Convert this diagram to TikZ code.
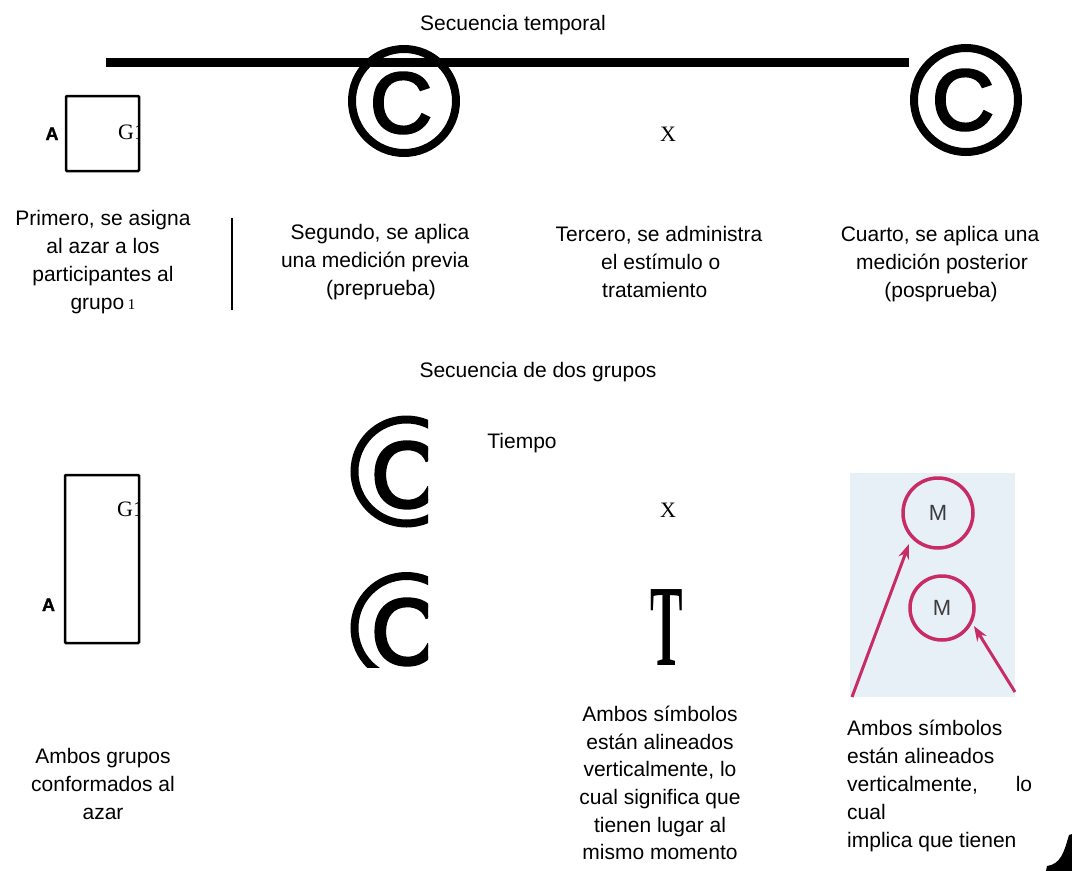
\documentclass[tikz,border=0pt]{standalone}
\usepackage{fontspec}
\setmainfont{Liberation Sans}
\newfontfamily\serifr{Liberation Serif}
\newfontfamily\csym[FakeBold=3]{Liberation Sans}
\newfontfamily\heavy[FakeBold=1.5]{Liberation Sans Bold}
\usetikzlibrary{arrows.meta}
\definecolor{mag}{RGB}{200,44,100}
\definecolor{photobg}{RGB}{231,239,247}
\definecolor{mgray}{RGB}{60,60,60}
\begin{document}
\begin{tikzpicture}[x=1pt,y=-1pt,
  txt/.style={inner sep=0pt, font=\fontsize{21}{28}\selectfont, anchor=base},
  txtl/.style={txt, anchor=base west},
  serifx/.style={inner sep=0pt, font=\serifr\fontsize{22}{22}\selectfont, anchor=base},
  boldA/.style={inner sep=0pt, font=\heavy\fontsize{18}{18}\selectfont, anchor=base},
  groupbox/.style={draw, line width=2.5pt, inner sep=0pt, rounded corners=1pt},
  ring/.style={circle, draw, line width=8pt, minimum size=104pt, inner sep=0pt},
  bigc/.style={inner sep=0pt, font=\csym\fontsize{86}{86}\selectfont},
  bigcb/.style={inner sep=0pt, font=\csym\fontsize{94}{94}\selectfont},
  mring/.style={circle, draw=mag, line width=3.5pt, inner sep=0pt, text=mgray, font=\fontsize{22}{22}\selectfont},
  magarrow/.style={draw=mag, line width=3pt, -{Stealth[length=15pt,width=11pt]}}
]
\useasboundingbox (0,0) rectangle (1072,871);

% ---------- top sequence ----------
\node[txt] (title1) at (513,30) {Secuencia temporal};
\coordinate (lineL) at (106,62.5);
\coordinate (lineR) at (909,62.5);
\draw[line width=9pt] (lineL) -- (lineR);

\begin{scope}
  \clip (60,90) rectangle (139.5,175);
  \node[serifx, anchor=base west] (g1a) at (118,139) {G1};
\end{scope}
\node[groupbox, minimum width=73pt, minimum height=75pt] (box1) at (102.5,133.5) {};
\node[boldA] (a1) at (52,140) {A};

\node[ring] (ring1) at (404,101) {};
\node[bigc] (c1) at (401,103) {C};
\node[ring] (ring2) at (966,100) {};
\node[bigc] (c2) at (963,100) {C};

\node[serifx] (x1) at (668,141) {X};

\node[txt] (p1) at (103,225) {Primero, se asigna};
\node[txt] (p2) at (103,253) {al azar a los};
\node[txt] (p3) at (103,281) {participantes al};
\node[txt] (p4) at (103,309) {grupo{\serifr\fontsize{15}{15}\selectfont\ 1}};

\coordinate (vtop) at (232,218);
\coordinate (vbot) at (232,310);
\draw[line width=2.5pt] (vtop) -- (vbot);

\node[txt] (s1) at (380,239) {Segundo, se aplica};
\node[txt] (s2) at (375,267) {una medición previa};
\node[txt] (s3) at (381,295) {(preprueba)};

\node[txt] (t1) at (659,241) {Tercero, se administra};
\node[txtl] (t2) at (601,269) {el estímulo o};
\node[txtl] (t3) at (602,297) {tratamiento};

\node[txt] (k1) at (940,241) {Cuarto, se aplica una};
\node[txt] (k2) at (942,269) {medición posterior};
\node[txt] (k3) at (941,297) {(posprueba)};

% ---------- two groups ----------
\node[txt] (title2) at (538,377) {Secuencia de dos grupos};
\node[txt] (tiempo) at (522,448) {Tiempo};

\begin{scope}
  \clip (60,480) rectangle (139.5,650);
  \node[serifx, anchor=base west] (g1b) at (117,516) {G1};
\end{scope}
\node[groupbox, minimum width=74pt, minimum height=168pt] (box2) at (102,559) {};
\node[boldA] (a2) at (48.5,611) {A};

\begin{scope}
  \clip (330,400) rectangle (428,667);
  \node[ring] (ring3) at (406.5,471.5) {};
  \node[bigcb] (c3) at (405,475) {C};
  \node[ring] (ring4) at (406.5,628) {};
  \node[bigcb] (c4) at (405,632) {C};
\end{scope}

\node[serifx] (x2) at (668,517) {X};
\node[inner sep=0pt, anchor=base, font=\serifr\bfseries\fontsize{116}{116}\selectfont] (bigT) at (666.5,665) {\scalebox{0.42}[1]{T}};

% photo
\node[fill=photobg, minimum width=165pt, minimum height=224pt, inner sep=0pt] (photo) at (932.5,585) {};
\node[mring, minimum size=70pt] (m1) at (938,513) {M};
\node[mring, minimum size=64pt] (m2) at (942,608) {M};
\coordinate (ar1s) at (852,697);
\coordinate (ar1e) at (909,544);
\coordinate (ar2s) at (1015,692);
\coordinate (ar2e) at (974,626);
\draw[magarrow] (ar1s) -- (ar1e);
\draw[magarrow] (ar2s) -- (ar2e);

% bottom texts
\node[txt] (b1) at (103,763) {Ambos grupos};
\node[txt] (b2) at (103,791) {conformados al};
\node[txt] (b3) at (103,819) {azar};

\node[txt] (m1t) at (660,721) {Ambos símbolos};
\node[txt] (m2t) at (660,749) {están alineados};
\node[txt] (m3t) at (660,776) {verticalmente, lo};
\node[txt] (m4t) at (660,804) {cual significa que};
\node[txt] (m5t) at (660,832) {tienen lugar al};
\node[txt] (m6t) at (660,859) {mismo momento};

\node[txtl] (r1t) at (847,735) {Ambos símbolos};
\node[txtl] (r2t) at (847,763) {están alineados};
\node[txtl] (r3t) at (847,791) {\hbox to 185pt{verticalmente,\hfill lo}};
\node[txtl] (r4t) at (847,819) {cual};
\node[txtl] (r5t) at (847,847) {implica que tienen};

% corner fragment
\fill (1072,834) -- (1069,835) .. controls (1064,852) and (1061,864) .. (1047,866) -- (1046,871) -- (1072,871) -- cycle;
\end{tikzpicture}
\end{document}
